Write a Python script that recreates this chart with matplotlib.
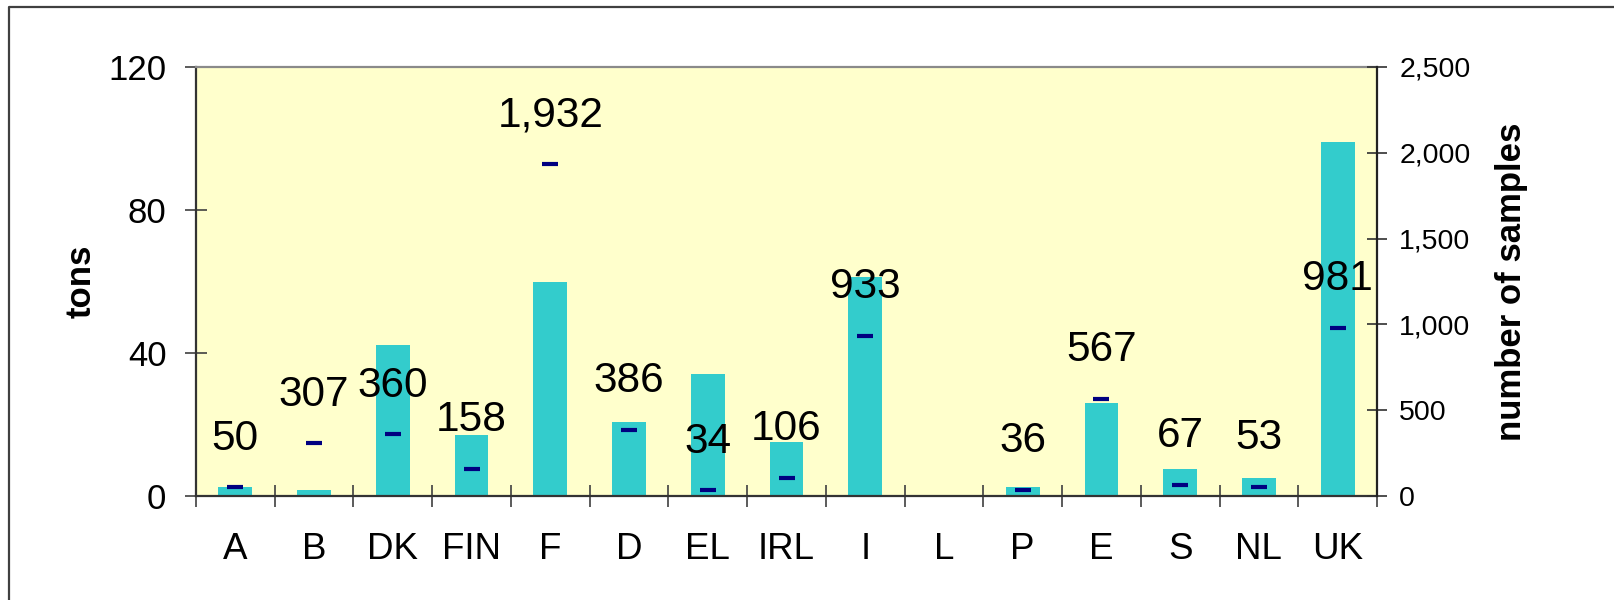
import matplotlib
matplotlib.use("Agg")
import matplotlib.pyplot as plt
from matplotlib.lines import Line2D
import numpy as np

plt.rcParams['font.family'] = ['Liberation Sans', 'DejaVu Sans']

categories = ["A", "B", "DK", "FIN", "F", "D", "EL", "IRL", "I", "L", "P", "E", "S", "NL", "UK"]
tons = [2.5, 1.7, 42.3, 17.2, 60.0, 20.8, 34.0, 15.2, 61.3, 0.0, 2.5, 25.9, 7.6, 5.0, 99.0]
samples = [50, 307, 360, 158, 1932, 386, 34, 106, 933, None, 36, 567, 67, 53, 981]
left_ticks = [0, 40, 80, 120]
right_ticks = [0, 500, 1000, 1500, 2000, 2500]

W, H = 1614, 600
fig = plt.figure(figsize=(W / 100, H / 100), dpi=100)
fig.patch.set_facecolor('white')

L, R, T, B = 196, 1377, 67, 496
ax = fig.add_axes([L / W, 1 - B / H, (R - L) / W, (B - T) / H])
ax.set_facecolor('#FFFFCC')

x = np.arange(len(categories))
ax.bar(x, tons, width=0.43, color='#33CCCC', zorder=2)
ax.set_xlim(-0.5, len(categories) - 0.5)
ax.set_ylim(0, 120)
ax.set_yticks(left_ticks)
ax.set_yticklabels([str(v) for v in left_ticks], fontsize=25)

# category boundary ticks
ax.set_xticks(np.arange(len(categories) + 1) - 0.5)
ax.set_xticklabels([])
ax.set_xticks(x, minor=True)
ax.set_xticklabels(categories, minor=True, fontsize=26.5)
ax.tick_params(axis='x', which='minor', length=0, pad=26)
ax.tick_params(axis='x', which='major', direction='inout', length=16.5, width=1.2, color='#404040')
ax.tick_params(axis='y', direction='inout', length=16.5, width=1.2, color='#404040', pad=13)

for s in ['left', 'bottom']:
    ax.spines[s].set_color('#333333')
    ax.spines[s].set_linewidth(1.6)
ax.spines['top'].set_color('#8a8a8a')
ax.spines['top'].set_linewidth(1.6)
ax.spines['right'].set_visible(False)

ax.set_ylabel('tons', fontsize=25, fontweight='bold', labelpad=8)

ax2 = ax.twinx()
ax2.set_ylim(0, 2500)
ax2.set_yticks(right_ticks)
ax2.set_yticklabels([f"{v:,}" for v in right_ticks], fontsize=20.5)
ax2.tick_params(axis='y', direction='inout', length=14, width=1.2, color='#303030', pad=9)
ax2.spines['right'].set_color('#222222')
ax2.spines['right'].set_linewidth(1.6)
for s in ['left', 'top', 'bottom']:
    ax2.spines[s].set_visible(False)
ax2.set_ylabel('number of samples', fontsize=25, fontweight='bold', labelpad=18)

for xi, sv in zip(x, samples):
    if sv is None:
        continue
    ax2.plot([xi], [sv], marker='_', markersize=11, markeredgewidth=3, color='#000080',
             linestyle='none', zorder=3)
    ax2.annotate(f"{sv:,}", (xi, sv), xytext=(0, 27), textcoords='offset points',
                 ha='center', va='baseline', fontsize=30.5, color='black')

# outer frame (top and left edges visible)
fig.add_artist(Line2D([9 / W, 9 / W, 1.0], [0.0, 1 - 7 / H, 1 - 7 / H],
                      transform=fig.transFigure, color='#404040', linewidth=1.6))

fig.savefig('out.png', dpi=100)
